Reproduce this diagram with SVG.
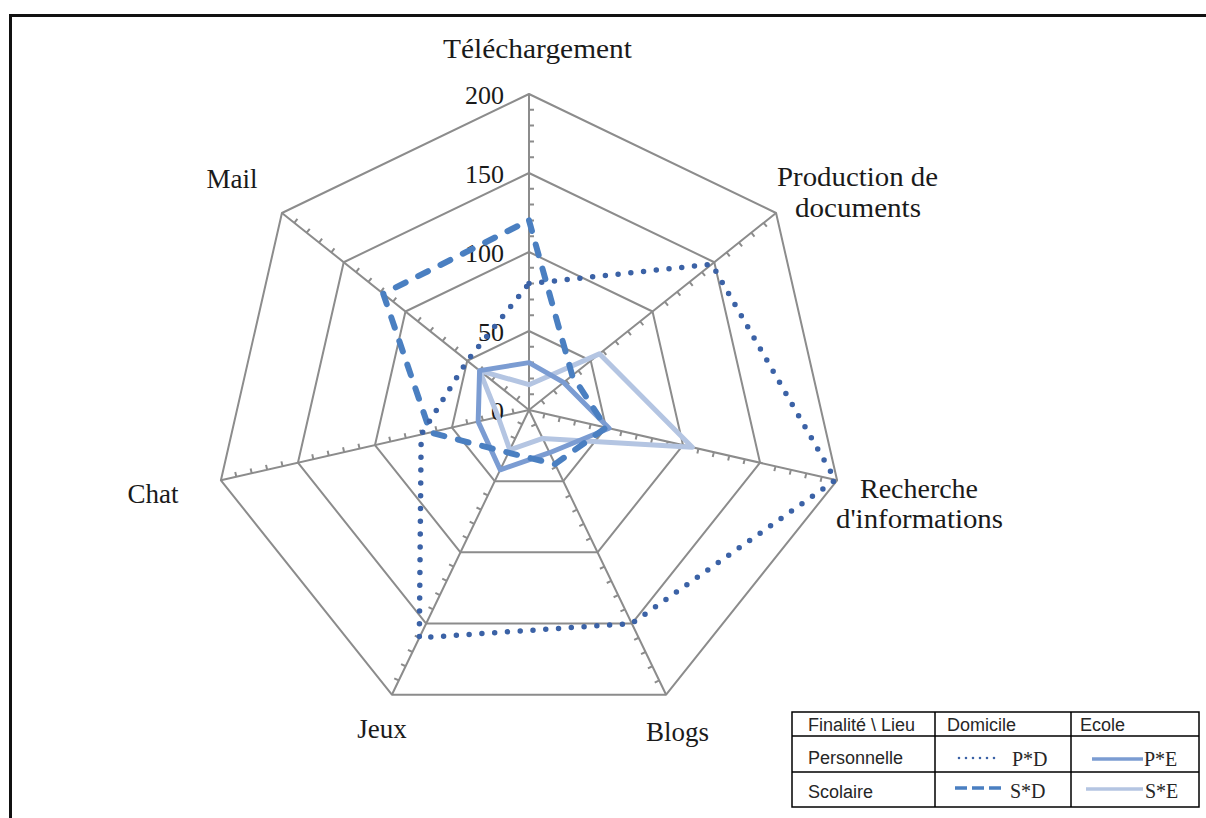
<svg xmlns="http://www.w3.org/2000/svg" xmlns:xlink="http://www.w3.org/1999/xlink" width="1206" height="818" viewBox="0 0 1206 818">
<style>
.grid{fill:none;stroke:#8c8c8c;stroke-width:2;stroke-linejoin:round}
.cat{font-family:"Liberation Serif",serif;font-size:27px;fill:#1a1a1a;text-anchor:middle}
.val{font-family:"Liberation Serif",serif;font-size:26px;fill:#1a1a1a;text-anchor:end}
.lg{font-family:"Liberation Sans",sans-serif;font-size:18px;fill:#262626}
.lgs{font-family:"Liberation Serif",serif;font-size:20px;fill:#262626}
.pd{fill:none;stroke:#3b62a6;stroke-width:5.5;stroke-linecap:round;stroke-dasharray:0 12.8;stroke-linejoin:round}
.sd{fill:none;stroke:#4a7fc1;stroke-width:6;stroke-linecap:round;stroke-dasharray:11 14;stroke-linejoin:round}
.pe{fill:none;stroke:#7b9cd2;stroke-width:5;stroke-linejoin:round}
.se{fill:none;stroke:#b4c5e2;stroke-width:5;stroke-linejoin:round}
</style>
<defs>
<path id="axis" d="M529 410V94M529 394.2h5M529 378.4h5M529 362.6h5M529 346.8h5M529 315.2h5M529 299.4h5M529 283.6h5M529 267.8h5M529 236.2h5M529 220.4h5M529 204.6h5M529 188.8h5M529 157.2h5M529 141.4h5M529 125.6h5M529 109.8h5"/>
</defs>
<rect width="1206" height="818" fill="#ffffff"/>
<path d="M10.5 818V15.5H1206" fill="none" stroke="#111" stroke-width="3"/>

<g id="grid" class="grid">
<polygon points="529,94 776.06,212.98 837.08,480.32 666.11,694.71 391.89,694.71 220.92,480.32 281.94,212.98"/>
<polygon points="529,173 714.29,262.23 760.06,462.74 631.83,623.53 426.17,623.53 297.94,462.74 343.71,262.23"/>
<polygon points="529,252 652.53,311.49 683.04,445.16 597.55,552.35 460.45,552.35 374.96,445.16 405.47,311.49"/>
<polygon points="529,331 590.76,360.74 606.02,427.58 563.28,481.18 494.72,481.18 451.98,427.58 467.24,360.74"/>
<use xlink:href="#axis" href="#axis"/>
<use xlink:href="#axis" href="#axis" transform="rotate(51.4286 529 410)"/>
<use xlink:href="#axis" href="#axis" transform="rotate(102.8571 529 410)"/>
<use xlink:href="#axis" href="#axis" transform="rotate(154.2857 529 410)"/>
<use xlink:href="#axis" href="#axis" transform="rotate(205.7143 529 410)"/>
<use xlink:href="#axis" href="#axis" transform="rotate(257.1429 529 410)"/>
<use xlink:href="#axis" href="#axis" transform="rotate(308.5714 529 410)"/>
</g>

<g id="values">
<text class="val" x="504" y="104">200</text>
<text class="val" x="504" y="183">150</text>
<text class="val" x="504" y="262">100</text>
<text class="val" x="504" y="341">50</text>
<text class="val" x="504" y="420">0</text>
</g>

<g id="series">
<polygon id="S-E" class="se" points="529,384.72 599.41,353.85 692.28,447.27 542.71,438.47 509.81,449.86 498.19,417.03 479.59,370.6"/>
<polygon id="P-E" class="pe" points="529,362.6 563.59,382.42 609.1,428.3 549.57,452.71 500.21,469.79 478.17,421.6 479.59,370.6"/>
<polygon id="S-D" class="sd" points="529,220.4 572.24,375.52 606.02,427.58 555.05,464.09 508.43,452.71 430.41,432.5 383.24,293.76"/>
<polygon id="P-D" class="pd" points="529,283.6 711.82,264.2 835.5,480 631.83,623.53 419.32,637.77 421.17,434.61 467.24,360.74"/>
</g>

<g id="labels">
<g id="n-telechargement"><text class="cat" x="537.5" y="58" textLength="189" lengthAdjust="spacingAndGlyphs">Téléchargement</text></g>
<g id="n-production"><text class="cat" x="857.5" y="186" textLength="161" lengthAdjust="spacingAndGlyphs">Production de</text><text class="cat" x="858" y="217" textLength="126" lengthAdjust="spacingAndGlyphs">documents</text></g>
<g id="n-recherche"><text class="cat" x="919" y="498" textLength="118" lengthAdjust="spacingAndGlyphs">Recherche</text><text class="cat" x="919.5" y="528" textLength="167" lengthAdjust="spacingAndGlyphs">d'informations</text></g>
<g id="n-blogs"><text class="cat" x="677.5" y="741">Blogs</text></g>
<g id="n-jeux"><text class="cat" x="382" y="738">Jeux</text></g>
<g id="n-chat"><text class="cat" x="153" y="503">Chat</text></g>
<g id="n-mail"><text class="cat" x="232" y="188">Mail</text></g>
</g>

<g id="legend">
<rect x="792" y="712" width="407" height="95" fill="#fff" stroke="#000" stroke-width="1.5"/>
<path d="M935 712V807M1071 712V807M792 736H1199M792 772H1199" stroke="#000" stroke-width="1.5" fill="none"/>
<text class="lg" x="808" y="731">Finalité \ Lieu</text>
<text class="lg" x="947" y="731">Domicile</text>
<text class="lg" x="1080" y="731">Ecole</text>
<text class="lg" x="808" y="764">Personnelle</text>
<text class="lg" x="808" y="798">Scolaire</text>
<path d="M959 758H1001" stroke="#3b62a6" stroke-width="2.6" stroke-linecap="round" stroke-dasharray="0 7" fill="none"/>
<text class="lgs" x="1012" y="766">P*D</text>
<path d="M1092 759H1143" stroke="#7b9cd2" stroke-width="3.5" fill="none"/>
<text class="lgs" x="1144" y="766">P*E</text>
<path d="M955 788H1003" stroke="#4a7fc1" stroke-width="3.5" stroke-dasharray="12 5" fill="none"/>
<text class="lgs" x="1010" y="798">S*D</text>
<path d="M1086 789H1143" stroke="#b4c5e2" stroke-width="3.5" fill="none"/>
<text class="lgs" x="1145" y="798">S*E</text>
</g>
</svg>
